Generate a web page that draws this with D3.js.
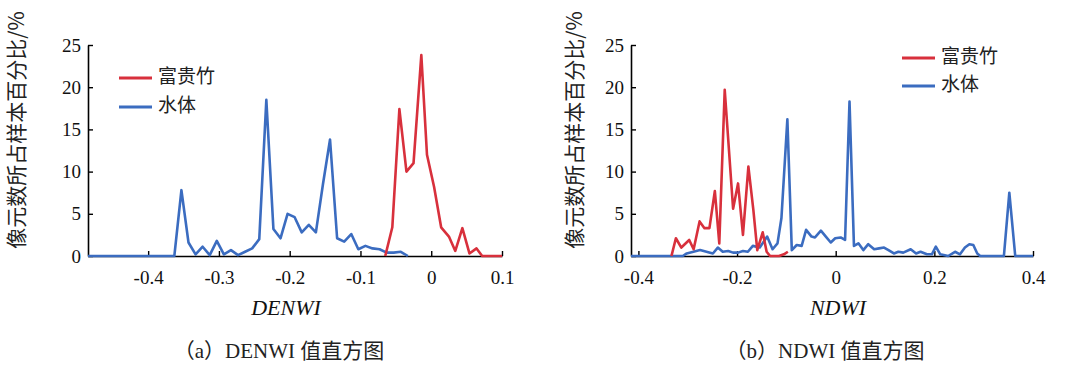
<!DOCTYPE html>
<html><head><meta charset="utf-8">
<script src="https://cdn.jsdelivr.net/npm/d3@7"></script>
<style>html,body{margin:0;padding:0;background:#fff;}svg{display:block;}
.serif{font-family:"Liberation Serif","Times New Roman",Times,serif;}
</style>
</head><body>
<svg id="c" width="1072" height="368"></svg>
<script>
// ---- data ----
const seriesNames = ["富贵竹", "水体"];
const yTicks = [0, 5, 10, 15, 20, 25];
const denwiTicks = [-0.4, -0.3, -0.2, -0.1, 0, 0.1];
const ndwiTicks = [-0.4, -0.2, 0, 0.2, 0.4];

const denwiBambooX = [-0.065,-0.055,-0.045,-0.035,-0.025,-0.014,-0.006,0.004,0.014,0.025,0.034,0.044,0.054,0.064,0.072,0.1];
const denwiBambooY = [0,3.4,17.4,10.0,11.0,23.8,12.0,8.2,3.4,2.3,0.6,3.3,0.3,0.9,0,0];
const denwiWaterX = [-0.485,-0.363,-0.353,-0.343,-0.333,-0.323,-0.313,-0.303,-0.293,-0.283,-0.273,-0.263,-0.253,-0.243,-0.233,-0.223,-0.213,-0.203,-0.193,-0.183,-0.173,-0.163,-0.153,-0.143,-0.133,-0.123,-0.113,-0.103,-0.093,-0.083,-0.073,-0.063,-0.053,-0.043,-0.033];
const denwiWaterY = [0,0,7.8,1.6,0.2,1.1,0.1,1.8,0.2,0.7,0.1,0.5,0.9,2.0,18.5,3.2,2.1,5.0,4.6,2.8,3.7,2.8,8.5,13.8,2.1,1.7,2.6,0.8,1.2,0.9,0.8,0.4,0.4,0.5,0];

const ndwiBambooX = [-0.333,-0.324,-0.313,-0.297,-0.288,-0.276,-0.266,-0.256,-0.245,-0.236,-0.225,-0.208,-0.198,-0.188,-0.177,-0.167,-0.159,-0.148,-0.140,-0.133,-0.115,-0.105,-0.097];
const ndwiBambooY = [0,2.1,1.0,1.9,0.8,4.1,3.3,3.3,7.7,1.5,19.7,5.6,8.6,2.5,10.6,5.5,0.7,2.8,0.5,0,0,0.2,0.5];
const ndwiWaterX = [-0.415,-0.310,-0.302,-0.275,-0.262,-0.249,-0.239,-0.229,-0.218,-0.208,-0.198,-0.188,-0.178,-0.168,-0.154,-0.139,-0.128,-0.118,-0.110,-0.098,-0.089,-0.079,-0.069,-0.060,-0.049,-0.042,-0.030,-0.020,-0.010,-0.001,0.010,0.019,0.028,0.037,0.046,0.056,0.066,0.078,0.088,0.098,0.107,0.118,0.127,0.137,0.152,0.163,0.172,0.185,0.195,0.203,0.212,0.228,0.242,0.252,0.262,0.271,0.279,0.287,0.293,0.341,0.352,0.364,0.400];
const ndwiWaterY = [0,0,0.3,0.7,0.5,0.3,1.0,0.5,0.6,0.4,0.4,0.6,0.5,1.2,1.0,2.3,0.8,1.5,4.5,16.2,0.7,1.3,1.2,3.1,2.3,2.2,3.0,2.3,1.6,2.1,2.2,1.9,18.3,1.2,1.5,0.7,1.4,0.8,0.9,1.0,0.7,0.3,0.5,0.4,0.8,0.3,0.5,0.2,0.2,1.1,0.2,0,0.5,0.2,1.0,1.4,1.3,0.3,0,0,7.5,0,0];

// ---- drawing ----
const RED = "#d8303c", BLUE = "#3b6cc0";
const svg = d3.select("#c");
const fmt = v => v === 0 ? "0" : String(v);

function panel(o) {
  const x = d3.scaleLinear().domain(o.xDomain).range([o.x0, o.x1]);
  const y = d3.scaleLinear().domain([0, 25]).range([256, 45]);
  const g = svg.append("g");
  const ax = g.append("g").attr("transform", `translate(0,256)`)
    .call(d3.axisBottom(x).tickValues(o.xTicks).tickFormat(fmt).tickSizeInner(-5).tickSizeOuter(0).tickPadding(15));
  const ay = g.append("g").attr("transform", `translate(${o.x0},0)`)
    .call(d3.axisLeft(y).tickValues(yTicks).tickFormat(fmt).tickSizeInner(-5).tickSizeOuter(0).tickPadding(7));
  [ax, ay].forEach(a => {
    a.attr("font-family", null).attr("font-size", null);
    a.select(".domain").attr("stroke", "#000").attr("stroke-width", 1.6);
    a.selectAll(".tick line").attr("stroke", "#000").attr("stroke-width", 1.4);
    a.selectAll(".tick text").attr("class", "serif").style("font-size", "19px").attr("fill", "#111");
  });
  const line = d3.line().x(d => x(d[0])).y(d => y(d[1]));
  const water = o.waterX.map((v, i) => [v, o.waterY[i]]);
  const bamboo = o.bambooX.map((v, i) => [v, o.bambooY[i]]);
  g.append("path").datum(water).attr("d", line).attr("fill", "none").attr("stroke", BLUE).attr("stroke-width", 2.6).attr("stroke-linejoin", "round");
  g.append("path").datum(bamboo).attr("d", line).attr("fill", "none").attr("stroke", RED).attr("stroke-width", 2.6).attr("stroke-linejoin", "round");
  // y label
  g.append("text").attr("transform", `translate(${o.yLabX},130) rotate(-90)`)
    .attr("text-anchor", "middle").attr("dominant-baseline", "middle")
    .style("font-family", "'Noto Sans CJK SC'").style("font-size", "21px").attr("fill", "#222")
    .text("像元数所占样本百分比/%");
  // x title
  g.append("text").attr("class", "serif").attr("x", o.titleX).attr("y", 310).attr("text-anchor", "middle").attr("dominant-baseline", "middle")
    .style("font-style", "italic").style("font-size", "22px").attr("fill", "#111")
    .text(o.title);
  // caption
  g.append("text").attr("x", o.capX).attr("y", 353).attr("text-anchor", "middle").attr("dominant-baseline", "middle")
    .style("font-family", "'Liberation Serif', 'Noto Sans CJK SC', serif").style("font-size", "21px").attr("fill", "#222")
    .text(o.caption);
  // legend
  const cols = [RED, BLUE];
  seriesNames.forEach((n, i) => {
    const ly = o.legY[i];
    g.append("line").attr("x1", o.legX).attr("x2", o.legX + 33).attr("y1", ly).attr("y2", ly)
      .attr("stroke", cols[i]).attr("stroke-width", 2.8);
    g.append("text").attr("x", o.legX + 39).attr("y", ly).attr("dominant-baseline", "middle")
      .style("font-family", "'Noto Sans CJK SC'").style("font-size", "19px").attr("fill", "#222").text(n);
  });
}

panel({xDomain: [-0.485, 0.1], x0: 88, x1: 502, xTicks: denwiTicks,
  waterX: denwiWaterX, waterY: denwiWaterY, bambooX: denwiBambooX, bambooY: denwiBambooY,
  yLabX: 18, title: "DENWI", titleX: 286, caption: "（a）DENWI 值直方图", capX: 279,
  legX: 119, legY: [78, 107]});
panel({xDomain: [-0.415, 0.4], x0: 631, x1: 1033, xTicks: ndwiTicks,
  waterX: ndwiWaterX, waterY: ndwiWaterY, bambooX: ndwiBambooX, bambooY: ndwiBambooY,
  yLabX: 576, title: "NDWI", titleX: 838, caption: "（b）NDWI 值直方图", capX: 825,
  legX: 902, legY: [58, 86]});
</script>
</body></html>
